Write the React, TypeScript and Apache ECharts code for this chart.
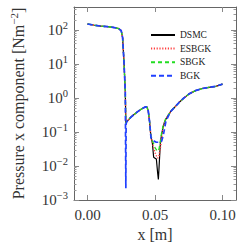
import React, { useEffect, useRef } from "react";
import * as echarts from "echarts";

// x positions [m]
const xs = [0, 0.005, 0.01, 0.015, 0.02, 0.023, 0.025, 0.026, 0.027, 0.028, 0.0284, 0.0286, 0.029, 0.03, 0.032, 0.035, 0.038, 0.041, 0.043, 0.044, 0.045, 0.046, 0.047, 0.048, 0.049, 0.05, 0.051, 0.052, 0.0525, 0.053, 0.054, 0.055, 0.056, 0.057, 0.058, 0.06, 0.062, 0.065, 0.068, 0.071, 0.075, 0.08, 0.085, 0.09, 0.095, 0.1];

// pressure x component [N m^-2]
const dsmcY = [150, 138, 130, 125, 118, 110, 95, 60, 12, 1.5, 0.18, 0.18, 0.2, 0.22, 0.27, 0.34, 0.42, 0.5, 0.55, 0.54, 0.42, 0.2, 0.07, 0.05, 0.018, 0.017, 0.016, 0.006, 0.004, 0.009, 0.05, 0.09, 0.14, 0.19, 0.24, 0.32, 0.42, 0.56, 0.75, 0.97, 1.3, 1.65, 1.9, 2.05, 2.2, 2.55];
const esbgkY = [150, 138, 130, 125, 118, 110, 95, 60, 12, 1.5, 0.18, 0.18, 0.2, 0.22, 0.27, 0.34, 0.42, 0.5, 0.55, 0.54, 0.42, 0.2, 0.07, 0.05, 0.035, 0.025, 0.02, 0.017, 0.017, 0.02, 0.035, 0.07, 0.13, 0.19, 0.24, 0.32, 0.42, 0.56, 0.75, 0.97, 1.3, 1.65, 1.9, 2.05, 2.2, 2.55];
const sbgkY = [150, 138, 130, 125, 118, 110, 95, 60, 12, 1.5, 0.18, 0.18, 0.2, 0.22, 0.27, 0.34, 0.42, 0.5, 0.55, 0.54, 0.42, 0.2, 0.07, 0.055, 0.045, 0.035, 0.03, 0.027, 0.027, 0.032, 0.055, 0.1, 0.15, 0.19, 0.24, 0.32, 0.42, 0.56, 0.75, 0.97, 1.3, 1.65, 1.9, 2.05, 2.2, 2.55];
const bgkY = [150, 138, 130, 125, 118, 110, 95, 60, 12, 1.5, 0.0022, 0.17, 0.2, 0.22, 0.27, 0.34, 0.42, 0.5, 0.55, 0.54, 0.42, 0.2, 0.07, 0.06, 0.055, 0.052, 0.05, 0.05, 0.05, 0.05, 0.05, 0.055, 0.075, 0.12, 0.2, 0.3, 0.42, 0.56, 0.75, 0.97, 1.3, 1.65, 1.9, 2.05, 2.2, 2.55];

const seriesNames = ["DSMC", "ESBGK", "SBGK", "BGK"];
const xTicks = [0, 0.05, 0.1];
const yDecades = [-3, -2, -1, 0, 1, 2];

const FONT = "Liberation Serif";

export default function App() {
  const ref = useRef<HTMLDivElement>(null);
  useEffect(() => {
    if (!ref.current) return;
    const chart = echarts.init(ref.current, null, { renderer: "svg" });
    const yMin = -3;
    const yMax = 2.676;
    const minorVals: number[] = [];
    for (let d = -3; d <= 2; d++) {
      for (let k = 2; k <= 9; k++) {
        const v = d + Math.log10(k);
        if (v <= yMax) minorVals.push(v);
      }
    }
    const toPts = (ys: number[]) => xs.map((x, i) => [x, Math.log10(ys[i])]);
    const axisColor = "#666";
    const supFmt = (v: number) => {
      const n = Math.round(v);
      return `{b|10}{s|${n < 0 ? "\u2212" + -n : n}}`;
    };
    const baseX = {
      type: "value" as const,
      min: -0.01,
      max: 0.11,
      splitLine: { show: false },
      axisLine: { show: true, onZero: false, lineStyle: { color: axisColor, width: 1 } },
    };
    const baseY = {
      type: "value" as const,
      min: yMin,
      max: yMax,
      splitLine: { show: false },
    };
    const option = {
      animation: false,
      backgroundColor: "#fff",
      grid: { left: 62, top: 7, width: 174, height: 193, containLabel: false },
      legend: {
        orient: "vertical",
        left: 145,
        top: 25,
        itemWidth: 24,
        itemHeight: 10,
        itemGap: 3.6,
        data: seriesNames,
        itemStyle: { opacity: 0 },
        textStyle: { fontFamily: FONT, fontSize: 9.5, color: "#222" },
      },
      xAxis: [
        {
          ...baseX,
          position: "bottom",
          axisTick: { show: true, inside: true, length: 5, customValues: xTicks, lineStyle: { color: "#888" } },
          axisLabel: {
            customValues: xTicks,
            formatter: (v: number) => v.toFixed(2),
            fontFamily: FONT,
            fontSize: 15,
            color: "#333",
            margin: 7,
          },
          name: "x [m]",
          nameLocation: "middle",
          nameGap: 23,
          nameTextStyle: { fontFamily: FONT, fontSize: 16, color: "#333" },
        },
        {
          ...baseX,
          position: "top",
          axisTick: { show: true, inside: true, length: 5, customValues: xTicks, lineStyle: { color: "#888" } },
          axisLabel: { show: false },
        },
      ],
      yAxis: [
        {
          ...baseY,
          position: "left",
          axisLine: { show: true, onZero: false, lineStyle: { color: axisColor, width: 1 } },
          axisTick: { show: true, inside: true, length: 5, customValues: yDecades, lineStyle: { color: "#888" } },
          axisLabel: {
            customValues: yDecades,
            formatter: supFmt,
            margin: 6,
            rich: {
              b: { fontFamily: FONT, fontSize: 15, color: "#333" },
              s: { fontFamily: FONT, fontSize: 10.5, color: "#333", verticalAlign: "bottom", padding: [0, 0, 9, 0] },
            },
          },
          name: "{t|Pressure x component [Nm}{s|\u22122}{t|]}",
          nameLocation: "middle",
          nameGap: 46,
          nameTextStyle: {
            rich: {
              t: { fontFamily: FONT, fontSize: 16, color: "#333" },
              s: { fontFamily: FONT, fontSize: 11, color: "#333", verticalAlign: "bottom", padding: [0, 0, 9, 0] },
            },
          },
        },
        {
          ...baseY,
          position: "right",
          axisLine: { show: true, onZero: false, lineStyle: { color: axisColor, width: 1 } },
          axisTick: { show: true, inside: true, length: 5, customValues: yDecades, lineStyle: { color: "#888" } },
          axisLabel: { show: false },
        },
        {
          ...baseY,
          position: "left",
          axisLine: { show: false, onZero: false },
          axisTick: { show: true, inside: true, length: 2.5, customValues: minorVals, lineStyle: { color: "#999" } },
          axisLabel: { show: false },
        },
        {
          ...baseY,
          position: "right",
          axisLine: { show: false, onZero: false },
          axisTick: { show: true, inside: true, length: 2.5, customValues: minorVals, lineStyle: { color: "#999" } },
          axisLabel: { show: false },
        },
      ],
      series: [
        {
          name: "DSMC",
          type: "line",
          data: toPts(dsmcY),
          symbol: "none",
          lineStyle: { color: "#000", width: 1.2, type: "solid" },
          itemStyle: { color: "#000" },
        },
        {
          name: "ESBGK",
          type: "line",
          data: toPts(esbgkY),
          symbol: "none",
          lineStyle: { color: "#ff4040", width: 1.5, type: [1.2, 1.6] },
          itemStyle: { color: "#ff4040" },
        },
        {
          name: "SBGK",
          type: "line",
          data: toPts(sbgkY),
          symbol: "none",
          lineStyle: { color: "#22dd22", width: 1.3, type: [4, 3] },
          itemStyle: { color: "#22dd22" },
        },
        {
          name: "BGK",
          type: "line",
          data: toPts(bgkY),
          symbol: "none",
          lineStyle: { color: "#2040ff", width: 1.7, type: [5, 3] },
          itemStyle: { color: "#2040ff" },
        },
      ],
    };
    chart.setOption(option as any);
    return () => chart.dispose();
  }, []);
  return (
    <div
      ref={ref}
      style={{ position: "fixed", left: 0, top: 0, width: 240, height: 248, background: "#fff" }}
    />
  );
}
